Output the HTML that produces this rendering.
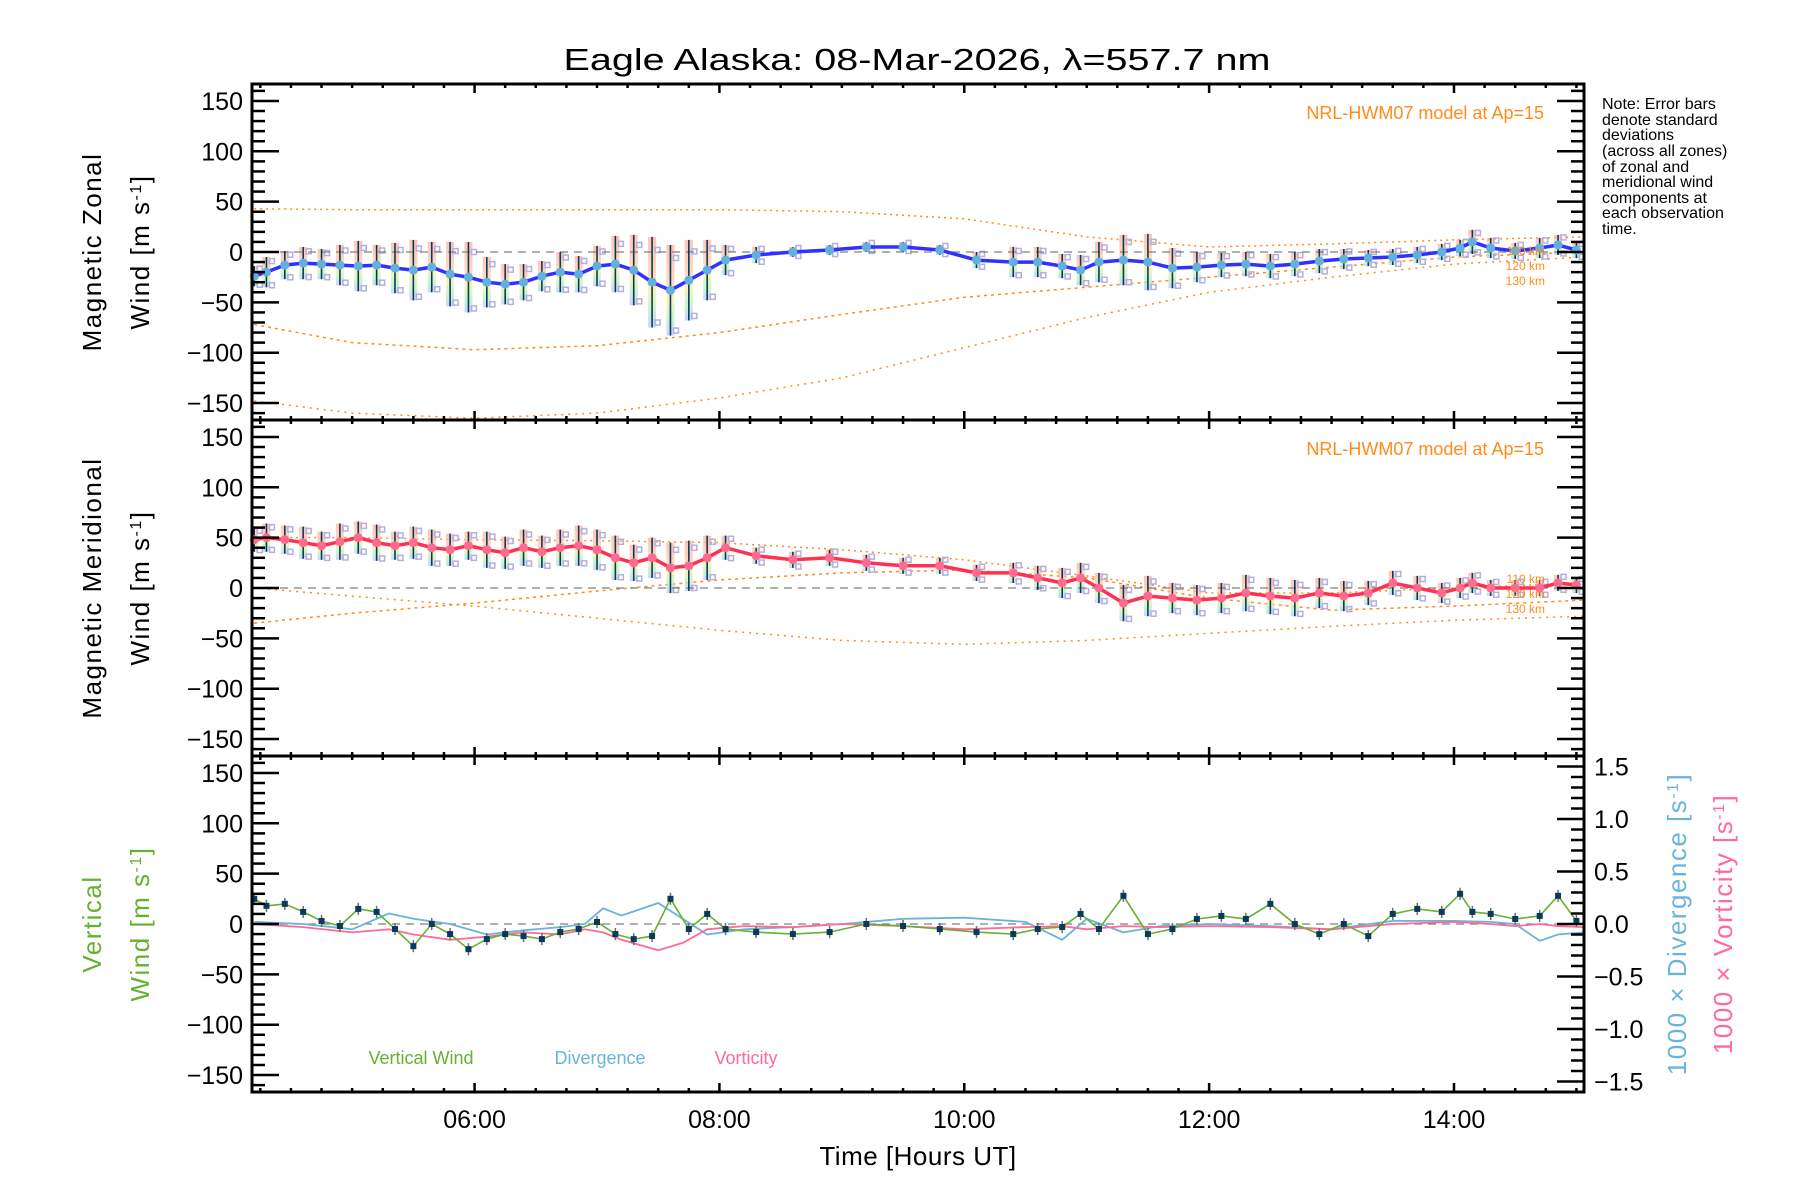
<!DOCTYPE html>
<html><head><meta charset="utf-8"><title>Eagle Alaska winds</title>
<style>
html,body{margin:0;padding:0;background:#fff;}
svg{display:block;font-family:"Liberation Sans",sans-serif;}
</style></head>
<body>
<svg id="chart" xmlns="http://www.w3.org/2000/svg" width="1800" height="1200" viewBox="0 0 1800 1200">
<defs>
<linearGradient id="rb" x1="0" y1="0" x2="0" y2="1">
<stop offset="0" stop-color="#ffb0a0"/><stop offset="0.4" stop-color="#ffc8a8"/><stop offset="0.6" stop-color="#f4f0a0"/><stop offset="0.8" stop-color="#b8f0c0"/><stop offset="1" stop-color="#b8c8ff"/>
</linearGradient>
</defs>
<rect width="1800" height="1200" fill="#fff"/>
<text x="917" y="70" font-size="31" text-anchor="middle" textLength="707" lengthAdjust="spacingAndGlyphs">Eagle Alaska: 08-Mar-2026, λ=557.7 nm</text>
<g id="note" font-size="16" fill="#000">
<text x="1602" y="109">Note: Error bars</text>
<text x="1602" y="125">denote standard</text>
<text x="1602" y="140">deviations</text>
<text x="1602" y="156">(across all zones)</text>
<text x="1602" y="172">of zonal and</text>
<text x="1602" y="187">meridional wind</text>
<text x="1602" y="203">components at</text>
<text x="1602" y="218">each observation</text>
<text x="1602" y="234">time.</text>
</g>
<g id="plots"></g>
<g id="labels" font-size="26" letter-spacing="1.5">
<text transform="translate(101,252) rotate(-90)" text-anchor="middle">Magnetic Zonal</text>
<text transform="translate(149,252) rotate(-90)" text-anchor="middle">Wind [m s<tspan baseline-shift="super" font-size="16">-1</tspan>]</text>
<text transform="translate(101,588) rotate(-90)" text-anchor="middle">Magnetic Meridional</text>
<text transform="translate(149,588) rotate(-90)" text-anchor="middle">Wind [m s<tspan baseline-shift="super" font-size="16">-1</tspan>]</text>
<text transform="translate(101,924) rotate(-90)" text-anchor="middle" fill="#66b032">Vertical</text>
<text transform="translate(149,924) rotate(-90)" text-anchor="middle" fill="#66b032">Wind [m s<tspan baseline-shift="super" font-size="16">-1</tspan>]</text>
<text transform="translate(1686,924) rotate(-90)" text-anchor="middle" fill="#6ab4dc">1000 × Divergence [s<tspan baseline-shift="super" font-size="16">-1</tspan>]</text>
<text transform="translate(1732,924) rotate(-90)" text-anchor="middle" fill="#ff6a98">1000 × Vorticity [s<tspan baseline-shift="super" font-size="16">-1</tspan>]</text>
<text x="918" y="1165" text-anchor="middle" letter-spacing="0.5">Time [Hours UT]</text>
</g>
<g font-size="18">
<text x="421" y="1064" text-anchor="middle" fill="#66b032">Vertical Wind</text>
<text x="600" y="1064" text-anchor="middle" fill="#6ab4dc">Divergence</text>
<text x="746" y="1064" text-anchor="middle" fill="#ff6a98">Vorticity</text>
<text x="1544" y="119" text-anchor="end" fill="#ff8c1a">NRL-HWM07 model at Ap=15</text>
<text x="1544" y="455" text-anchor="end" fill="#ff8c1a">NRL-HWM07 model at Ap=15</text>
</g>
<g font-size="12" fill="#ff8c1a" text-anchor="end">
<text x="1545" y="255">110 km</text>
<text x="1545" y="270">120 km</text>
<text x="1545" y="285">130 km</text>
<text x="1545" y="583">110 km</text>
<text x="1545" y="598">120 km</text>
<text x="1545" y="613">130 km</text>
</g>
</svg>
<script>
// ---- data ----
const xTickLabels = ["06:00","08:00","10:00","12:00","14:00"];
const xTickHours = [6,8,10,12,14];
const yTickValues = [150,100,50,0,-50,-100,-150];
const rTickValues = [1.5,1.0,0.5,0.0,-0.5,-1.0,-1.5];

const zonT = [4.20,4.30,4.45,4.6,4.75,4.9,5.05,5.2,5.35,5.5,5.65,5.8,5.95,6.1,6.25,6.4,6.55,6.7,6.85,7.0,7.15,7.3,7.45,7.6,7.75,7.9,8.05,8.3,8.6,8.9,9.2,9.5,9.8,10.1,10.4,10.6,10.8,10.95,11.1,11.3,11.5,11.7,11.9,12.1,12.3,12.5,12.7,12.9,13.1,13.3,13.5,13.7,13.9,14.05,14.15,14.3,14.5,14.7,14.85,15.0];
const zonV = [-24,-20,-13,-11,-12,-13,-14,-13,-16,-18,-15,-22,-25,-30,-32,-30,-24,-20,-22,-14,-12,-18,-30,-38,-28,-18,-8,-3,0,2,5,5,2,-8,-10,-10,-14,-18,-10,-8,-10,-16,-15,-13,-12,-14,-12,-9,-7,-6,-5,-3,0,4,10,4,1,4,7,2];
const zonE = [10,15,14,16,15,20,25,20,25,30,25,32,35,25,20,18,15,20,18,20,28,35,45,45,40,30,15,8,5,5,5,5,5,8,15,15,12,15,20,25,28,20,15,12,12,12,12,12,10,8,8,8,8,8,12,10,8,10,10,8];

const merT = zonT;
const merV = [48,50,48,45,42,46,50,45,42,45,40,38,42,38,35,40,36,40,42,38,30,25,30,20,22,30,40,32,28,30,25,22,22,15,15,10,5,10,0,-15,-8,-10,-12,-10,-5,-8,-10,-5,-8,-5,5,0,-5,0,5,0,0,0,5,3];
const merE = [12,14,14,16,14,18,16,18,14,16,18,16,14,18,16,18,16,18,20,20,22,18,20,25,25,22,12,8,8,8,8,8,8,8,10,12,15,15,15,18,20,15,15,15,18,18,18,15,15,12,12,12,10,10,10,8,8,8,8,8];

const verT = zonT;
const verV = [25,18,20,12,3,-2,15,12,-5,-22,0,-10,-25,-15,-10,-12,-15,-8,-5,2,-10,-15,-12,25,-5,10,-5,-8,-10,-8,0,-2,-5,-8,-10,-5,-3,10,-5,28,-10,-5,5,8,5,20,0,-10,0,-12,10,15,12,30,12,10,5,8,28,3];

const divT = [4.2,4.6,5.0,5.3,5.5,5.8,6.1,6.4,6.7,6.9,7.05,7.2,7.5,7.7,7.9,8.2,8.6,9.0,9.5,10.0,10.5,10.8,11.0,11.3,11.6,12.0,12.5,13.0,13.5,14.0,14.3,14.5,14.7,14.85,15.06];
const divV = [0.02,0.0,-0.05,0.1,0.05,0.0,-0.1,-0.06,-0.03,0.0,0.15,0.08,0.2,0.05,-0.1,-0.05,-0.03,0.0,0.05,0.06,0.02,-0.15,0.05,-0.08,-0.02,0.0,-0.02,-0.05,0.03,0.03,0.02,0.0,-0.16,-0.1,-0.08];
const vorT = divT;
const vorV = [0.0,-0.03,-0.08,-0.05,-0.1,-0.15,-0.12,-0.08,-0.1,-0.05,-0.08,-0.15,-0.25,-0.18,-0.05,-0.02,-0.03,0.0,-0.02,-0.05,-0.03,-0.02,-0.05,-0.02,-0.03,-0.02,-0.03,-0.05,0.0,0.02,0.0,-0.02,0.0,-0.02,-0.03];

const modelT = [4.2,5,6,7,8,9,10,11,12,13,14,15.06];
const zonModel110 = [43,42,42,42,42,40,33,15,5,8,12,15];
const zonModel120 = [-72,-90,-97,-93,-80,-62,-45,-35,-25,-15,-5,0];
const zonModel130 = [-148,-160,-165,-160,-145,-125,-95,-65,-40,-25,-12,-5];
const merModel110 = [50,50,48,47,45,38,28,12,-5,-5,0,5];
const merModel120 = [0,-8,-18,-30,-42,-52,-56,-52,-45,-38,-32,-28];
const merModel130 = [-35,-25,-15,-3,8,15,18,10,-10,-22,-18,-12];

// ---- axes ----
const X0 = 252, X1 = 1584, H0 = 4.182, H1 = 15.062;
const panels = [84, 420, 756];
const PH = 336, YS = 1.007, RS = 105;
function xs(h){ return X0 + (h - H0) * (X1 - X0) / (H1 - H0); }
function ys(p, v){ return panels[p] + PH/2 - v * YS; }
function yr(v){ return panels[2] + PH/2 - v * RS; }

const NS = "http://www.w3.org/2000/svg";
const root = document.getElementById("plots");
function el(tag, attrs, parent){
  const e = document.createElementNS(NS, tag);
  for (const k in attrs) e.setAttribute(k, attrs[k]);
  (parent || root).appendChild(e);
  return e;
}
function pathFrom(T, V, yf){
  return T.map((t,i)=>(i?"L":"M")+xs(t).toFixed(1)+" "+yf(V[i]).toFixed(1)).join(" ");
}

function drawModel(p, arr, name, dash){
  const e = el("path", {d: pathFrom(modelT, arr, v=>ys(p,v)), fill:"none", stroke:"#ff8c1a", "stroke-width":1.5, "stroke-dasharray":dash});
  
  
}
function drawWindPanel(p, T, V, E, lineCol, dotCol, prefix){
  const g = el("g", {});
  
  
  T.forEach((t,i)=>{
    const r = el("rect", {x: xs(t)-4, y: ys(p, V[i]+E[i]), width: 8, height: 2*E[i]*YS, fill:"url(#rb)", opacity:0.75}, g);
    
    
  });
  T.forEach((t,i)=>{
    [V[i]-E[i]*0.9, V[i]+E[i]*0.7].forEach(v=>{
      const s = el("rect", {x: xs(t)+3, y: ys(p,v)-3, width:5, height:5, fill:"none", stroke:"#b4b0dc", "stroke-width":1.5}, g);
      
      
    });
  });
  const z = el("line", {x1:X0, x2:X1, y1:ys(p,0), y2:ys(p,0), stroke:"#808080", "stroke-width":1.2, "stroke-dasharray":"8 6"}, g);
  
  
  T.forEach((t,i)=>{
    const b = el("line", {x1:xs(t), x2:xs(t), y1:ys(p,V[i]+E[i]), y2:ys(p,V[i]-E[i]), stroke:"#0a3a5a", "stroke-width":1.6}, g);
    
    
  });
  const ln = el("path", {d: pathFrom(T, V, v=>ys(p,v)), fill:"none", stroke:lineCol, "stroke-width":3.5}, g);
  
  
  T.forEach((t,i)=>{
    const c = el("circle", {cx:xs(t), cy:ys(p,V[i]), r:4.5, fill:dotCol}, g);
    
    
  });
}
drawModel(0, zonModel110, 'zonal-model-110km', '2 4');
drawModel(0, zonModel120, 'zonal-model-120km', '3 4');
drawModel(0, zonModel130, 'zonal-model-130km', '2 5');
drawModel(1, merModel110, 'meridional-model-110km', '2 4');
drawModel(1, merModel120, 'meridional-model-120km', '2 5');
drawModel(1, merModel130, 'meridional-model-130km', '3 4');
drawWindPanel(0, zonT, zonV, zonE, "#3030ff", "#60b0e0", "zonal");
drawWindPanel(1, merT, merV, merE, "#ff3050", "#ff6a90", "meridional");

const z3 = el("line", {x1:X0, x2:X1, y1:ys(2,0), y2:ys(2,0), stroke:"#808080", "stroke-width":1.2, "stroke-dasharray":"8 6"});


const dl = el("path", {d: pathFrom(divT, divV, yr), fill:"none", stroke:"#6ab4dc", "stroke-width":1.8});


const vl = el("path", {d: pathFrom(vorT, vorV, yr), fill:"none", stroke:"#ff6a98", "stroke-width":1.8});


verT.forEach((t,i)=>{
  const b = el("line", {x1:xs(t), x2:xs(t), y1:ys(2,verV[i]+6), y2:ys(2,verV[i]-6), stroke:"#707070", "stroke-width":1.5});
  
  
});
const wl = el("path", {d: pathFrom(verT, verV, v=>ys(2,v)), fill:"none", stroke:"#66b032", "stroke-width":1.6});


verT.forEach((t,i)=>{
  const s = el("rect", {x:xs(t)-3, y:ys(2,verV[i])-3, width:6, height:6, fill:"#0a3a5a"});
  
  
});

panels.forEach((top,p)=>{
  const f = el("rect", {x:X0, y:top, width:X1-X0, height:PH, fill:"none", stroke:"#000", "stroke-width":3});
  
  
  const tg = el("g", {stroke:"#000", "stroke-width":2.5});
  
  
  for (let v=-160; v<=160; v+=10){
    const y = ys(p,v), L = (v%50===0)?27:13;
    el("line",{x1:X0,x2:X0+L,y1:y,y2:y},tg);
    const R = (p===2)?0:L;
    if (R) el("line",{x1:X1,x2:X1-R,y1:y,y2:y},tg);
  }
  for (let h=4.25; h<=15.05; h+=0.25){
    const x = xs(h), L = (Math.abs(h-Math.round(h/2)*2)<0.01)?9:4;
    el("line",{x1:x,x2:x,y1:top,y2:top+L},tg);
    el("line",{x1:x,x2:x,y1:top+PH,y2:top+PH-L},tg);
  }
  yTickValues.forEach(v=>{
    const t = el("text", {x:243, y:ys(p,v)+9, "font-size":25, "text-anchor":"end"});
    t.textContent = (v<0?"\u2212":"") + Math.abs(v);
    
    
  });
});
const rg = el("g", {stroke:"#000", "stroke-width":2.5});


for (let k=-16; k<=16; k++){
  const v = k/10, y = yr(v), L = (k%5===0)?27:13;
  if (y < panels[2] || y > panels[2]+PH) continue;
  el("line",{x1:X1,x2:X1-L,y1:y,y2:y},rg);
}
rTickValues.forEach(v=>{
  const t = el("text", {x:1594, y:yr(v)+9, "font-size":25});
  t.textContent = (v<0?"\u2212":"") + Math.abs(v).toFixed(1);
  
  
});
xTickHours.forEach((h,i)=>{
  const t = el("text", {x:xs(h), y:1128, "font-size":25, "text-anchor":"middle"});
  t.textContent = xTickLabels[i];
  
  
});
</script>
</body></html>
